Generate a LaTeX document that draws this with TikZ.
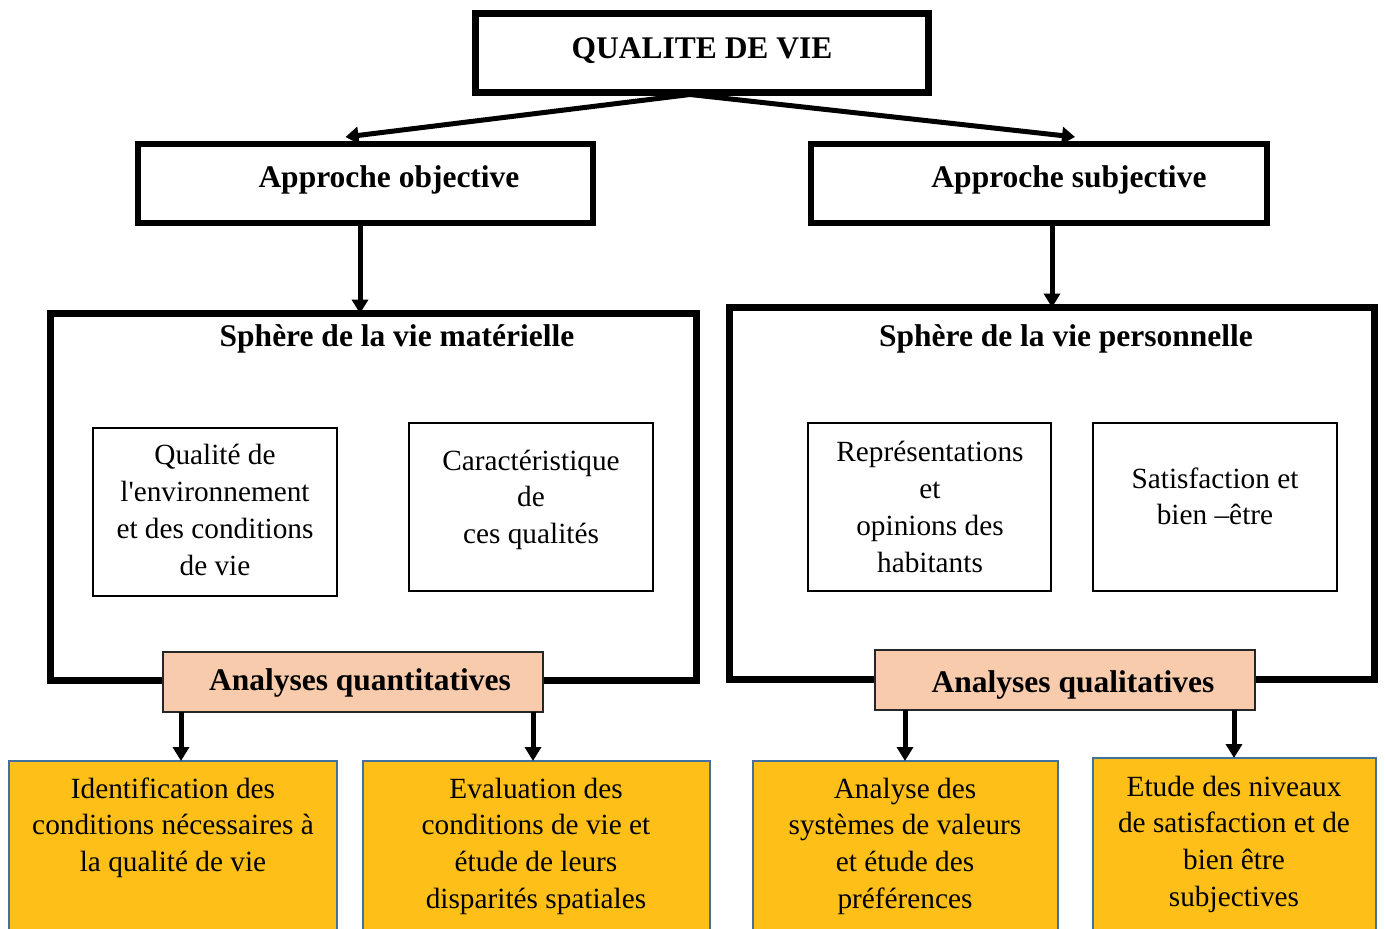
\documentclass[tikz,border=0pt]{standalone}
\usepackage{fontspec}
\newfontfamily\bodyfont{Liberation Serif}
\usetikzlibrary{arrows.meta}
\definecolor{peach}{RGB}{248,203,173}
\definecolor{gold}{RGB}{254,192,24}
\definecolor{bblue}{RGB}{65,113,156}
\begin{document}
\begin{tikzpicture}[x=1pt,y=-1pt,
  every node/.style={inner sep=0pt,outer sep=0pt},
  bigbox/.style={draw,line width=6.5pt,fill=white,rectangle},
  heavybox/.style={draw,line width=7pt,fill=white,rectangle},
  thinbox/.style={draw,line width=2pt,fill=white,rectangle},
  anbox/.style={draw=black!85,line width=2.5pt,fill=peach,rectangle},
  goldbox/.style={draw=bblue,line width=2pt,fill=gold,rectangle},
  head/.style={font=\bodyfont\fontsize{31.5}{36}\selectfont\bfseries,anchor=base,align=center},
  body/.style={font=\bodyfont\fontsize{29.3}{36.7}\selectfont,anchor=base,align=center},
  arr/.style={line width=5pt,-{Triangle[length=14pt,width=16pt]}},
  darr/.style={line width=5pt,-{Triangle[length=13pt,width=17pt]}}
]
\path[use as bounding box] (0,0) rectangle (1385,929);
\clip (0,0) rectangle (1385,929);
\fill[white] (0,0) rectangle (1385,929);

% top
\node[heavybox,minimum width=453pt,minimum height=79pt] (qv) at (702,53) {};
\node[head] (tqv) at (702,58) {QUALITE DE VIE};

\node[bigbox,minimum width=455pt,minimum height=79pt] (ao) at (365.5,183.5) {};
\node[head] (tao) at (389,187) {Approche objective};
\node[bigbox,minimum width=456pt,minimum height=79pt] (as) at (1039,183.5) {};
\node[head] (tas) at (1069,187) {Approche subjective};

\draw[darr] ([xshift=-12pt,yshift=-2pt]qv.south) -- ([xshift=-20pt,yshift=7pt]ao.north);
\draw[darr] ([xshift=-12pt,yshift=-2pt]qv.south) -- ([xshift=36pt,yshift=7pt]as.north);

% spheres
\node[heavybox,minimum width=646pt,minimum height=367pt] (sm) at (373.5,497) {};
\node[head] (tsm) at (397,346) {Sphère de la vie matérielle};
\node[heavybox,minimum width=645pt,minimum height=372pt] (sp) at (1052,493.5) {};
\node[head] (tsp) at (1066,346) {Sphère de la vie personnelle};

\draw[arr] ([xshift=-5.5pt]ao.south) -- ([xshift=-5.5pt]ao.south |- sm.north);
\draw[arr] ([xshift=13pt]as.south) -- ([xshift=13pt]as.south |- sp.north);

% inner boxes (body nodes: base = last line baseline)
\node[thinbox,minimum width=244pt,minimum height=168pt] (q1) at (215,512) {};
\node[body] (tq1) at (215,575) {Qualité de\\l\symbol{39}environnement\\et des conditions\\de vie};
\node[thinbox,minimum width=244pt,minimum height=168pt] (q2) at (531,507) {};
\node[body] (tq2) at (531,543.4) {Caractéristique\\de\\ces qualités};
\node[thinbox,minimum width=243pt,minimum height=168pt] (q3) at (929.5,507) {};
\node[body] (tq3) at (930,572) {Représentations\\et\\opinions des\\habitants};
\node[thinbox,minimum width=244pt,minimum height=168pt] (q4) at (1215,507) {};
\node[body] (tq4) at (1215,524.7) {Satisfaction et\\bien –être};

% analyses
\node[anbox,minimum width=380pt,minimum height=60pt] (aq) at (353,682) {};
\node[head] (taq) at (360,690) {Analyses quantitatives};
\node[anbox,minimum width=380pt,minimum height=60pt] (al) at (1065,680) {};
\node[head] (tal) at (1073,692) {Analyses qualitatives};

% bottom boxes
\node[goldbox,minimum width=328pt,minimum height=198pt] (b1) at (173,860) {};
\node[body] (tb1) at (173,871.4) {Identification des\\conditions nécessaires à\\la qualité de vie};
\node[goldbox,minimum width=347pt,minimum height=198pt] (b2) at (536.5,860) {};
\node[body] (tb2) at (536,908.1) {Evaluation des\\conditions de vie et\\étude de leurs\\disparités spatiales};
\node[goldbox,minimum width=305pt,minimum height=198pt] (b3) at (905.5,860) {};
\node[body] (tb3) at (905,908.1) {Analyse des\\systèmes de valeurs\\et étude des\\préférences};
\node[goldbox,minimum width=283pt,minimum height=201pt] (b4) at (1234.5,858.5) {};
\node[body] (tb4) at (1234,906.1) {Etude des niveaux\\de satisfaction et de\\bien être\\subjectives};

\draw[arr] ([xshift=-172pt]aq.south) -- ([xshift=-172pt]aq.south |- b1.north);
\draw[arr] ([xshift=180pt]aq.south) -- ([xshift=180pt]aq.south |- b2.north);
\draw[arr] ([xshift=-160pt]al.south) -- ([xshift=-160pt]al.south |- b3.north);
\draw[arr] ([xshift=169pt]al.south) -- ([xshift=169pt]al.south |- b4.north);
\end{tikzpicture}
\end{document}
